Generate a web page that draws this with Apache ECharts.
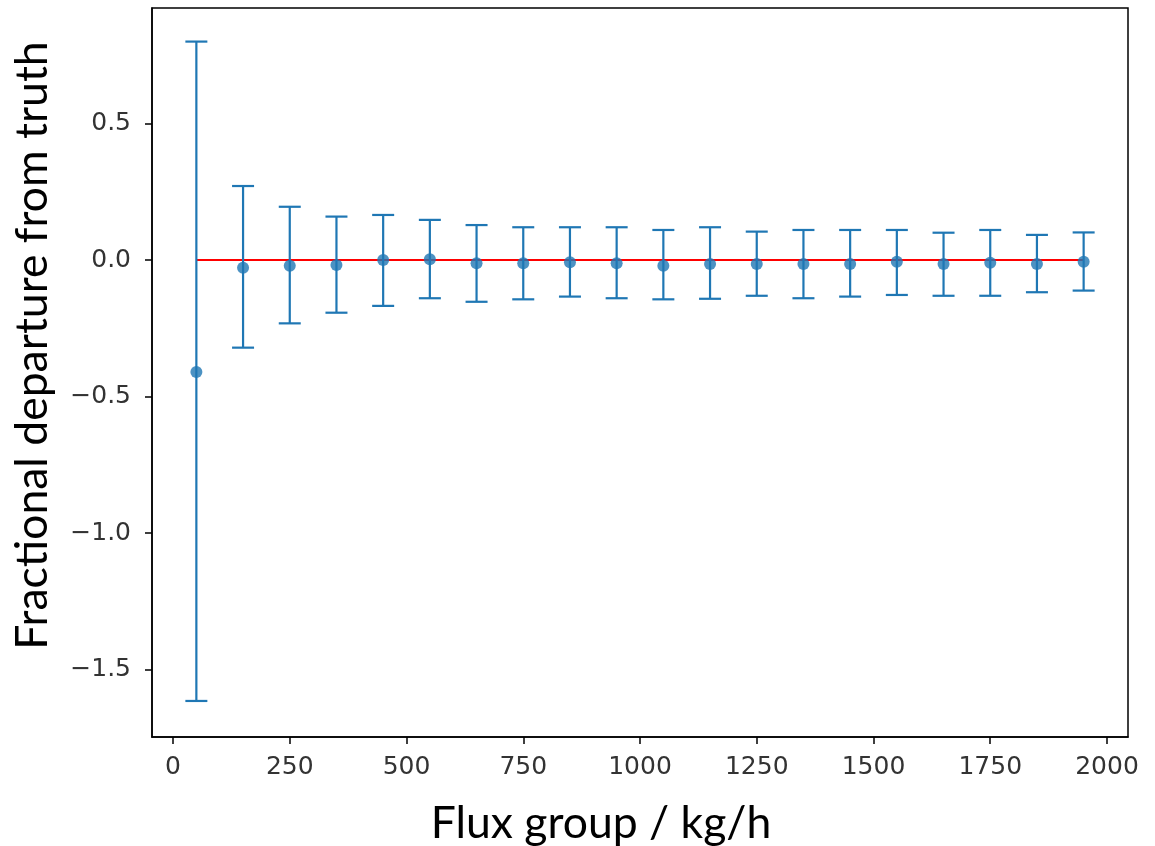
<!DOCTYPE html>
<html>
<head>
<meta charset="utf-8">
<script src="https://cdn.jsdelivr.net/npm/echarts@6/dist/echarts.min.js"></script>
<style>
html,body{margin:0;padding:0;background:#fff;}
#chart{width:1155px;height:846px;}
</style>
</head>
<body>
<div id="chart"></div>
<script>
const fluxGroups = [50,150,250,350,450,550,650,750,850,950,1050,1150,1250,1350,1450,1550,1650,1750,1850,1950];
const meanDeparture = [-0.41,-0.028,-0.021,-0.018,0.0,0.003,-0.012,-0.012,-0.008,-0.012,-0.021,-0.015,-0.015,-0.015,-0.015,-0.006,-0.015,-0.010,-0.015,-0.006];
const upperBound = [0.80,0.271,0.195,0.159,0.165,0.147,0.128,0.120,0.120,0.120,0.110,0.120,0.104,0.110,0.110,0.110,0.100,0.110,0.092,0.101];
const lowerBound = [-1.615,-0.321,-0.232,-0.193,-0.168,-0.140,-0.153,-0.144,-0.134,-0.140,-0.144,-0.142,-0.131,-0.140,-0.134,-0.128,-0.131,-0.131,-0.118,-0.112];
const truthLine = [[50,0],[1950,0]];
const xTicks = [0,250,500,750,1000,1250,1500,1750,2000];
const yTicks = [-1.5,-1.0,-0.5,0.0,0.5];

const blue = '#1f77b4';
const errData = fluxGroups.map((x,i)=>[x,lowerBound[i],upperBound[i]]);
const ptData = fluxGroups.map((x,i)=>[x,meanDeparture[i]]);

const chart = echarts.init(document.getElementById('chart'));
const tickFont = {fontFamily:'DejaVu Sans',fontSize:25,color:'#333'};
chart.setOption({
  animation:false,
  grid:{left:152,top:8,right:27,bottom:109,show:true,borderColor:'#000',borderWidth:1.5,containLabel:false,outerBoundsMode:'none'},
  xAxis:{
    type:'value',min:-45,max:2045,
    name:'Flux group / kg/h',nameLocation:'middle',nameGap:64,
    nameTextStyle:{fontFamily:'Lato',fontSize:44.5,color:'#000',padding:[0,78,0,0]},
    axisLine:{show:true,onZero:false,lineStyle:{color:'#000',width:1.5}},
    axisTick:{show:true,inside:false,length:7,customValues:xTicks,lineStyle:{color:'#000',width:1.5}},
    axisLabel:Object.assign({margin:18,customValues:xTicks,formatter:v=>String(v)},tickFont),
    splitLine:{show:false}
  },
  yAxis:{
    type:'value',min:-1.747,max:0.923,
    name:'Fractional departure from truth',nameLocation:'middle',nameGap:97,
    nameTextStyle:{fontFamily:'Lato',fontSize:44.5,color:'#000',padding:[0,0,0,54]},
    axisLine:{show:true,onZero:false,lineStyle:{color:'#000',width:1.5}},
    axisTick:{show:true,inside:false,length:7,customValues:yTicks,lineStyle:{color:'#000',width:1.5}},
    axisLabel:Object.assign({margin:21,customValues:yTicks,formatter:v=>v.toFixed(1).replace('-','\u2212')},tickFont),
    splitLine:{show:false}
  },
  series:[
    {
      type:'line',data:truthLine,symbol:'none',z:1,
      lineStyle:{color:'#ff0000',width:2.2}
    },
    {
      type:'custom',data:errData,z:2,
      renderItem:function(params,api){
        const x = api.value(0);
        const lo = api.coord([x,api.value(1)]);
        const hi = api.coord([x,api.value(2)]);
        const hw = 11;
        const style = {stroke:blue,lineWidth:2.2};
        return {type:'group',children:[
          {type:'line',shape:{x1:lo[0],y1:lo[1],x2:hi[0],y2:hi[1]},style:style},
          {type:'line',shape:{x1:lo[0]-hw,y1:lo[1],x2:lo[0]+hw,y2:lo[1]},style:style},
          {type:'line',shape:{x1:hi[0]-hw,y1:hi[1],x2:hi[0]+hw,y2:hi[1]},style:style}
        ]};
      }
    },
    {
      type:'scatter',data:ptData,z:3,symbol:'circle',symbolSize:12,
      itemStyle:{color:blue}
    }
  ]
});
</script>
</body>
</html>
